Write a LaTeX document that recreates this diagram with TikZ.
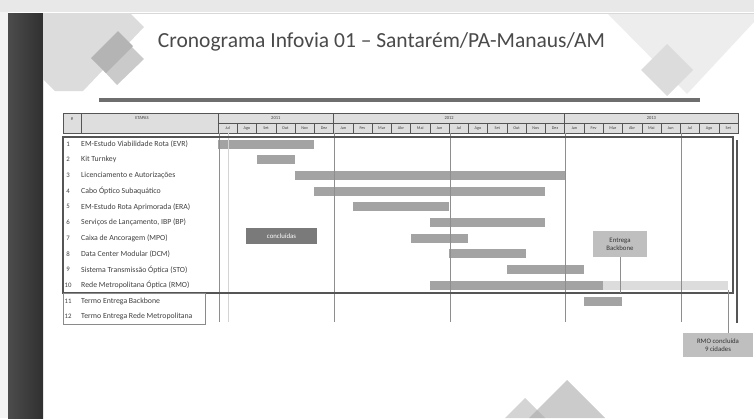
\documentclass[tikz,border=0pt]{standalone}
\usepackage{fontspec}
\setmainfont{Carlito}
\definecolor{barc}{HTML}{A3A3A3}
\definecolor{barl}{HTML}{DCDCDC}
\definecolor{boxc}{HTML}{555555}
\definecolor{gridc}{HTML}{8E8E8E}
\definecolor{hdrfill}{HTML}{DEDEDE}
\definecolor{txtc}{HTML}{404040}
\definecolor{titlec}{HTML}{4A4A4A}
\definecolor{topstrip}{HTML}{E8E8E8}
\definecolor{sidestrip}{HTML}{F3F3F3}
\definecolor{topline}{HTML}{D8D8D8}
\definecolor{darkbarA}{HTML}{4C4C4C}
\definecolor{darkbarB}{HTML}{303030}
\definecolor{decoA}{HTML}{DCDCDC}
\definecolor{decoB}{HTML}{CACACA}
\definecolor{decoC}{HTML}{B4B4B4}
\definecolor{decoD}{HTML}{EDEDED}
\definecolor{mtnA}{HTML}{999999}
\definecolor{mtnB}{HTML}{AAAAAA}
\definecolor{rulec}{HTML}{6E6E6E}
\definecolor{faintc}{HTML}{D4D4D4}
\definecolor{lowerc}{HTML}{8A8A8A}
\definecolor{conclc}{HTML}{7A7A7A}
\definecolor{callc}{HTML}{BFBFBF}
\definecolor{calltxt}{HTML}{333333}
\newcommand{\gbar}[5]{\node[bar,#5,anchor=west,minimum width={(#4-#3)*19.26pt}] (#1) at ({218+#3*19.26},{144+(#2-1)*15.7}) {};}
\newcommand{\grow}[2]{\node[numtxt] (n#1) at (68,{144+(#1-1)*15.7}) {#1};
  \node[rowtxt,anchor=west] (t#1) at (81,{144+(#1-1)*15.7}) {#2};}
\begin{document}
\begin{tikzpicture}[x=1pt,y=-1pt,
  bar/.style={fill=barc, draw=none, inner sep=0pt, outer sep=0pt, minimum height=9pt},
  lightbar/.style={fill=barl},
  numtxt/.style={font=\fontsize{6.8}{7}\selectfont, text=txtc, inner sep=0pt},
  rowtxt/.style={font=\fontsize{7.8}{8}\selectfont, text=txtc, inner sep=0pt},
  mtxt/.style={font=\fontsize{4.2}{5}\selectfont, text=txtc, inner sep=0pt},
  ytxt/.style={font=\fontsize{4.5}{5}\selectfont, text=txtc, inner sep=0pt},
  hdrline/.style={draw=boxc, line width=0.6pt},
  gridline/.style={draw=gridc, line width=0.7pt},
  callout/.style={fill=#1, draw=none, inner sep=1pt, align=center, font=\fontsize{6.8}{8}\selectfont},
  link/.style={draw=gridc, line width=0.8pt}
]
\useasboundingbox (0,0) rectangle (754,418);
% background
\fill[white] (0,0) rectangle (754,418);
\fill[topstrip] (0,0) rectangle (754,12);
\fill[sidestrip] (0,12) rectangle (8,418);
\draw[topline, line width=0.6pt] (43,13) -- (754,13);
% left dark bar
\shade[left color=darkbarA, right color=darkbarB] (8,13) rectangle (43,418);
% upper-left decoration
\fill[decoA] (43,13) -- (130,13) -- (144,27) -- (83,91) -- (55,91) -- (43,79) -- cycle;
\fill[decoB] (104,71) -- (130,45) -- (144,59) -- (117,85) -- cycle;
\fill[decoC] (91,58) -- (118,31) -- (133,46) -- (106,73) -- cycle;
% upper-right decoration
\fill[decoD] (608,14) -- (754,14) -- (754,22) -- (687,94) -- cycle;
\fill[decoA] (641,70) -- (667,44) -- (693,70) -- (667,96) -- cycle;
% bottom decoration
\fill[mtnA, opacity=0.5] (567,380) -- (605,418) -- (529,418) -- cycle;
\fill[mtnB, opacity=0.5] (525,398) -- (545,418) -- (505,418) -- cycle;
% title
\node[font=\fontsize{21.5}{24}\selectfont, text=titlec, anchor=base, inner sep=0pt] (title) at (381.5,47) {Cronograma Infovia 01 – Santarém/PA-Manaus/AM};
\draw[rulec, line width=4pt] (99,100) -- (700,100);
% header
\fill[hdrfill] (63,113) rectangle (738,133);
\draw[boxc, line width=1pt] (63,113) rectangle (738,133);
\draw[hdrline] (81,113) -- (81,133);
\draw[hdrline, line width=0.9pt] (218,113) -- (218,133);
\draw[hdrline] (218,123) -- (738,123);
\foreach \k in {1,...,26} { \draw[hdrline, line width=0.4pt] ({218+\k*19.26},123) -- ({218+\k*19.26},133); }
\draw[hdrline, line width=0.9pt] ({218+6*19.26},113) -- ({218+6*19.26},133);
\draw[hdrline, line width=0.9pt] ({218+18*19.26},113) -- ({218+18*19.26},133);
\node[ytxt] (hnum) at (72,118.5) {\#};
\node[ytxt] (hetapas) at (142,118.5) {ETAPAS};
\node[ytxt] (y2011) at ({218+3*19.26},118.3) {2011};
\node[ytxt] (y2012) at ({218+12*19.26},118.3) {2012};
\node[ytxt] (y2013) at ({218+22.5*19.26},118.3) {2013};
\foreach \m [count=\i from 0] in {Jul,Ago,Set,Out,Nov,Dez,Jan,Fev,Mar,Abr,Mai,Jun,Jul,Ago,Set,Out,Nov,Dez,Jan,Fev,Mar,Abr,Mai,Jun,Jul,Ago,Set}
  { \node[mtxt] (m\i) at ({218+(\i+0.5)*19.26},128.3) {\m}; }
% bars
\gbar{b1}{1}{0}{5}{}
\gbar{b2}{2}{2}{4}{}
\gbar{b3}{3}{4}{18}{}
\gbar{b4}{4}{5}{17}{}
\gbar{b5}{5}{7}{12}{}
\gbar{b6}{6}{11}{17}{}
\gbar{b7}{7}{10}{13}{}
\gbar{b8}{8}{12}{16}{}
\gbar{b9}{9}{15}{19}{}
\gbar{b10}{10}{11}{20}{}
\gbar{b10l}{10}{20}{26.5}{lightbar}
\gbar{b11}{11}{19}{21}{}
% grid lines
\draw[faintc, line width=0.6pt] (228,133) -- (228,322);
\foreach \k in {0,6,12,18,24} { \draw[gridline] ({219+\k*19.26},133) -- ({219+\k*19.26},322); }
% body boxes
\node[draw=boxc, line width=1.5pt, minimum width=670pt, minimum height=156pt, inner sep=0pt, outer sep=0pt, anchor=north west] (body) at (63,137) {};
\draw[boxc, line width=1.5pt] (737,140) -- (737,323);
\node[draw=lowerc, line width=0.8pt, minimum width=142pt, minimum height=31pt, inner sep=0pt, outer sep=0pt, anchor=north west] (lower) at (63,293) {};
% row texts
\grow{1}{EM-Estudo Viabilidade Rota (EVR)}
\grow{2}{Kit Turnkey}
\grow{3}{Licenciamento e Autorizações}
\grow{4}{Cabo Óptico Subaquático}
\grow{5}{EM-Estudo Rota Aprimorada (ERA)}
\grow{6}{Serviços de Lançamento, IBP (BP)}
\grow{7}{Caixa de Ancoragem (MPO)}
\grow{8}{Data Center Modular (DCM)}
\grow{9}{Sistema Transmissão Óptica (STO)}
\grow{10}{Rede Metropolitana Óptica (RMO)}
\grow{11}{Termo Entrega Backbone}
\grow{12}{Termo Entrega Rede Metropolitana}
% callouts
\node[callout=conclc, text=white, minimum width=71pt, minimum height=16pt] (concl) at (281.5,236) {concluídas};
\node[callout=callc, text=calltxt, minimum width=54pt, minimum height=26pt] (eb) at (620,244) {Entrega\\Backbone};
\node[callout=callc, text=calltxt, minimum width=70pt, minimum height=24pt] (rmo) at (718,345) {RMO concluída\\9 cidades};
\draw[link] (eb.south) -- (eb.south |- body.south);
\draw[link] (b10l.south east) -- (b10l.south east |- rmo.north);
\end{tikzpicture}
\end{document}
